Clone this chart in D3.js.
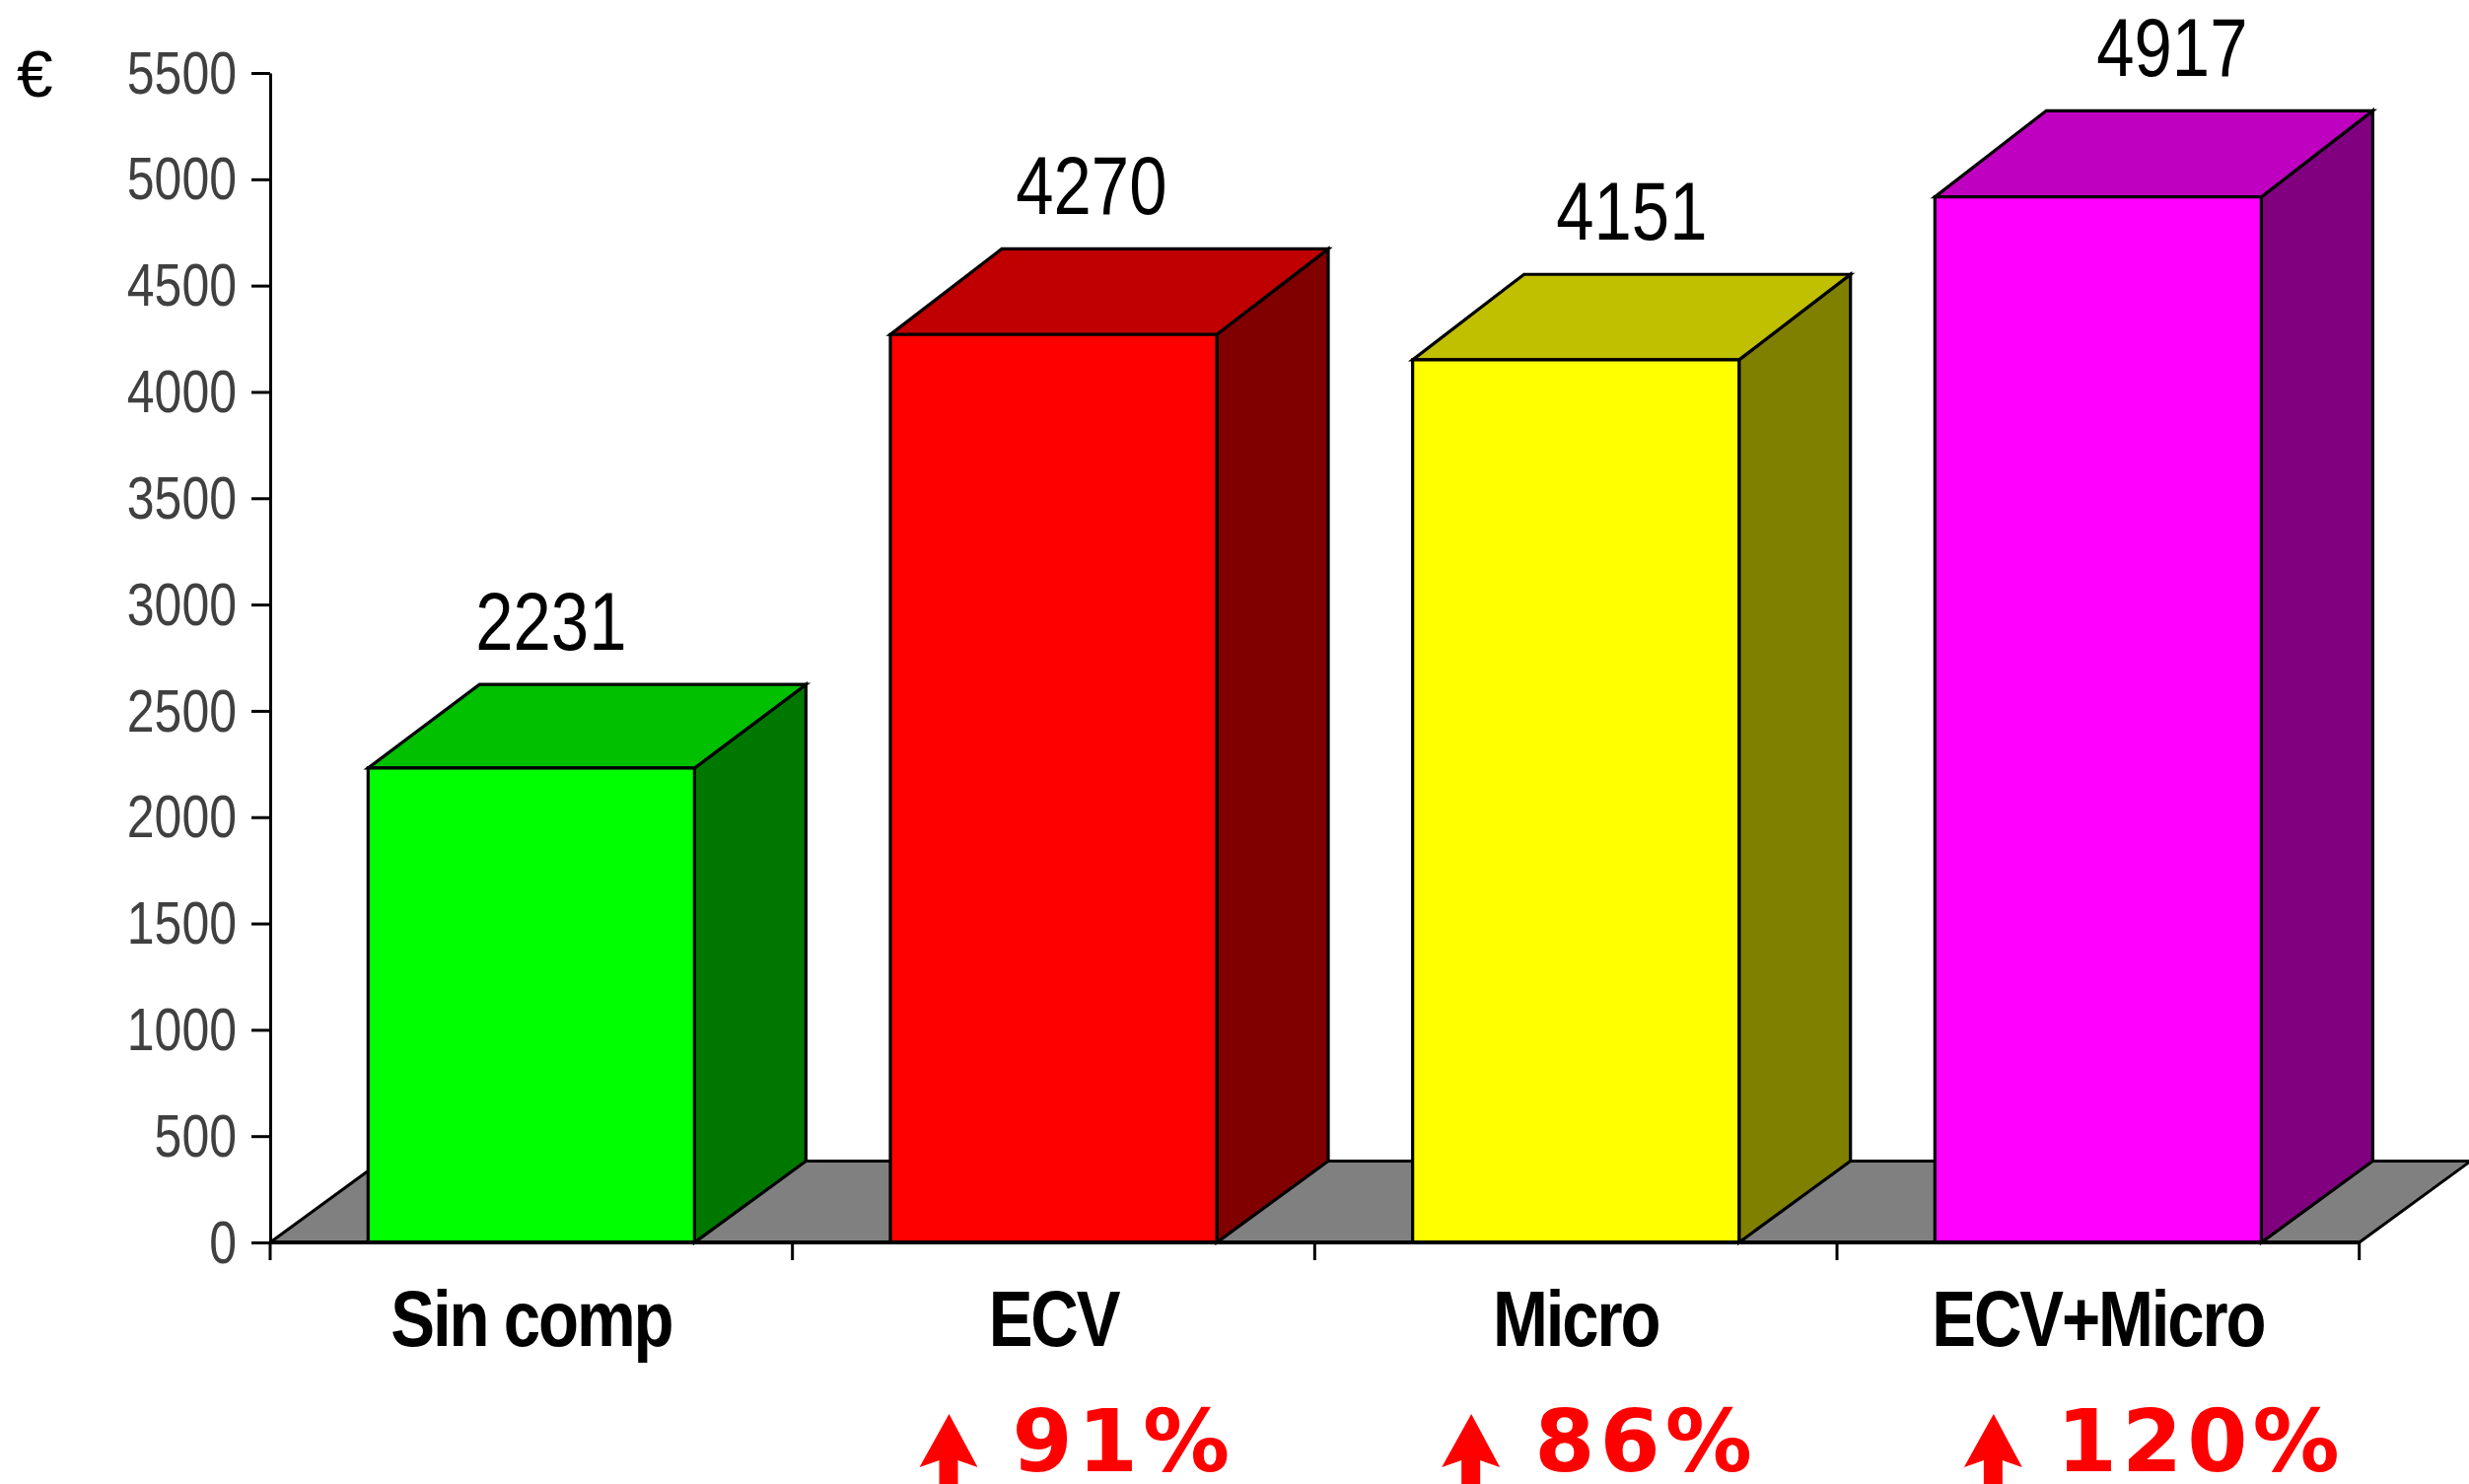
<!DOCTYPE html>
<html>
<head>
<meta charset="utf-8">
<script src="https://cdn.jsdelivr.net/npm/d3@7/dist/d3.min.js"></script>
<style>
  html, body { margin: 0; padding: 0; background: #ffffff; }
  svg { display: block; }
</style>
</head>
<body>
<svg id="chart" width="2504" height="1505"></svg>
<script>
// Cost per patient by complication group (euros)
const categories = ["Sin comp", "ECV", "Micro", "ECV+Micro"];
const costs = [2231, 4270, 4151, 4917];
const increasePct = [null, 91, 86, 120];
const yTickValues = [0, 500, 1000, 1500, 2000, 2500, 3000, 3500, 4000, 4500, 5000, 5500];
const currencyLabel = "€";

// face shades: front / top / side
const frontColors = ["#00ff00", "#ff0000", "#ffff00", "#ff00ff"];
const topColors   = ["#00c000", "#c00000", "#c0c000", "#c000c0"];
const sideColors  = ["#007800", "#800000", "#808000", "#800080"];

const W = 2504, H = 1505;
const svg = d3.select("#chart").attr("width", W).attr("height", H);

// condensed sans: regular sans squeezed horizontally
const sans = "'Liberation Sans', Arial, sans-serif";
const squeeze = 0.82;

// front plane and back plane of the 3D box
const x = d3.scaleBand()
  .domain(categories)
  .range([274, 2392.7])
  .paddingInner(0.375)
  .paddingOuter(0.1875);
const y = d3.scaleLinear().domain([0, 5500]).range([1260, 74]);
const yBack = d3.scaleLinear().domain([0, 5500]).range([1177.5, -14]);
const depthX = 113;

const x0 = x.range()[0], x1 = x.range()[1];
const poly = pts => "M" + pts.map(p => p.join(",")).join("L") + "Z";

// floor
svg.append("path")
  .attr("d", poly([[x0, y(0)], [x1, y(0)], [x1 + depthX, yBack(0)], [x0 + depthX, yBack(0)]]))
  .attr("fill", "#808080")
  .attr("stroke", "#000")
  .attr("stroke-width", 3)
  .attr("stroke-linejoin", "round");

// bars
const bars = svg.append("g").selectAll("g")
  .data(categories.map((c, i) => ({ c, v: costs[i], i })))
  .join("g");

bars.append("path") // side
  .attr("d", d => {
    const r = x(d.c) + x.bandwidth();
    return poly([[r, y(d.v)], [r + depthX, yBack(d.v)], [r + depthX, yBack(0)], [r, y(0)]]);
  })
  .attr("fill", d => sideColors[d.i]);

bars.append("path") // top
  .attr("d", d => {
    const l = x(d.c), r = l + x.bandwidth();
    return poly([[l, y(d.v)], [r, y(d.v)], [r + depthX, yBack(d.v)], [l + depthX, yBack(d.v)]]);
  })
  .attr("fill", d => topColors[d.i]);

bars.append("path") // front
  .attr("d", d => {
    const l = x(d.c), r = l + x.bandwidth();
    return poly([[l, y(d.v)], [r, y(d.v)], [r, y(0)], [l, y(0)]]);
  })
  .attr("fill", d => frontColors[d.i]);

bars.selectAll("path")
  .attr("stroke", "#000")
  .attr("stroke-width", 3.2)
  .attr("stroke-linejoin", "miter");

// value labels above each box
bars.append("text")
  .attr("transform", d => {
    const lx = x(d.c) + x.bandwidth() / 2 + 20 + 55 * d.i / (categories.length - 1);
    return `translate(${lx},${yBack(d.v) - 35}) scale(${squeeze},1)`;
  })
  .attr("text-anchor", "middle")
  .attr("font-family", sans)
  .attr("font-size", 84)
  .attr("fill", "#000")
  .text(d => d.v);

// value axis
const tickPad = 15, tickLen = 19;
const yAxis = svg.append("g")
  .attr("transform", `translate(${x0},0)`)
  .call(d3.axisLeft(y).tickValues(yTickValues).tickSize(tickLen).tickSizeOuter(0).tickPadding(tickPad).tickFormat(d3.format("d")));
yAxis.select(".domain").attr("stroke", "#000").attr("stroke-width", 3);
yAxis.selectAll(".tick line").attr("stroke", "#000").attr("stroke-width", 3);
yAxis.selectAll(".tick text")
  .attr("font-family", sans)
  .attr("font-size", 61)
  .attr("fill", "#404040")
  .attr("dy", "0.33em")
  .attr("x", -(tickLen + tickPad) / squeeze)
  .attr("transform", `scale(${squeeze},1)`);

svg.append("text")
  .attr("x", 17)
  .attr("y", 98)
  .attr("font-family", sans)
  .attr("font-size", 66)
  .attr("fill", "#000")
  .text(currencyLabel);

// category axis
svg.append("line")
  .attr("x1", x0).attr("x2", x1)
  .attr("y1", y(0)).attr("y2", y(0))
  .attr("stroke", "#000").attr("stroke-width", 4);

const boundaries = categories.map(c => x(c) + x.bandwidth() / 2 - x.step() / 2).concat([x1]);
svg.append("g").selectAll("line")
  .data(boundaries)
  .join("line")
  .attr("x1", d => d).attr("x2", d => d)
  .attr("y1", y(0)).attr("y2", y(0) + 18)
  .attr("stroke", "#000").attr("stroke-width", 3);

svg.append("g").selectAll("text")
  .data(categories)
  .join("text")
  .attr("transform", d => `translate(${x(d) + x.bandwidth() / 2},1365) scale(0.85,1)`)
  .attr("text-anchor", "middle")
  .attr("font-family", sans)
  .attr("font-weight", "bold")
  .attr("font-size", 79)
  .attr("letter-spacing", -2.5)
  .attr("fill", "#000")
  .text(d => d);

// increase over the group without complications
const inc = svg.append("g").selectAll("g")
  .data(categories.map((c, i) => ({ c, p: increasePct[i] })).filter(d => d.p !== null))
  .join("g")
  .attr("transform", d => `translate(${x(d.c) + x.bandwidth() / 2},0)`);

inc.append("path")
  .attr("d", poly([[-106, 1434], [-77, 1488], [-97, 1481], [-97, 1520], [-116, 1520], [-116, 1481], [-136, 1488]]))
  .attr("fill", "#ff0000");

inc.append("text")
  .attr("x", -42)
  .attr("y", 1492)
  .attr("font-family", "'DejaVu Sans', Verdana, sans-serif")
  .attr("font-weight", "bold")
  .attr("font-size", 88)
  .attr("letter-spacing", 5)
  .attr("fill", "#ff0000")
  .text(d => d.p + "%");
</script>
</body>
</html>
